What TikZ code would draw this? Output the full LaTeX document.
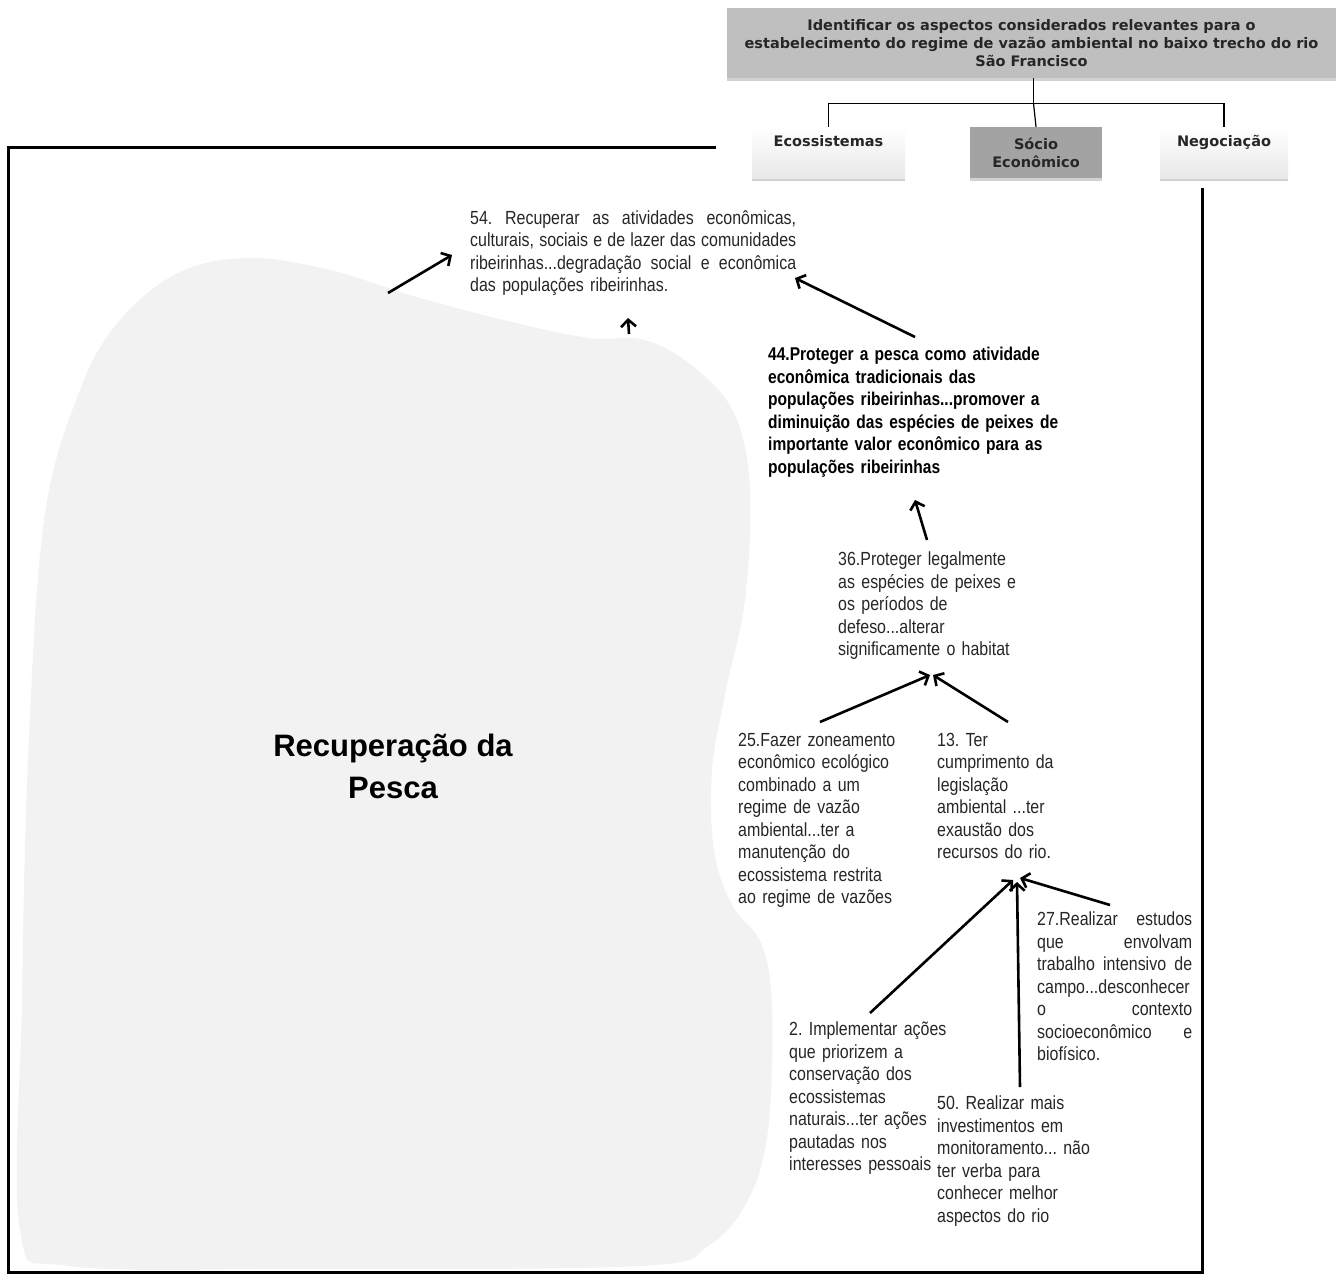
\documentclass[tikz,border=0pt]{standalone}
\usepackage{fontspec}
\setmainfont{Liberation Sans}
\newfontfamily\narrowfont[FakeStretch=0.84,WordSpace=0.55]{Liberation Sans}
\newfontfamily\chartfont{DejaVu Sans}
\newcommand{\jline}[1]{\leavevmode\hbox to\hsize{\spaceskip=0.2em plus 1fil\relax#1}}
\usetikzlibrary{arrows.meta,shadows}

\begin{document}
\frenchspacing
\begin{tikzpicture}[x=1pt,y=-1pt,>={Straight Barb[length=7pt,width=15pt]},
  chartbox/.style={draw=none,align=center,inner sep=0,minimum height=51,
    font=\chartfont\bfseries\fontsize{14.5}{18}\selectfont,text=black!85,
    drop shadow={shadow xshift=0pt,shadow yshift=-3pt,opacity=0.35}},
  txt/.style={anchor=north west,inner sep=0,align=left,text=black!85,
    font=\narrowfont\fontsize{19}{22.5}\selectfont},
  link/.style={->,line width=2.6}]
\useasboundingbox (0,0) rectangle (1336,1279);
\draw[line width=3] (8,148) rectangle (1202,1272);
\fill[gray!10] plot[smooth cycle,tension=0.6] coordinates {
  (20,1230) (22,1000) (28,760) (44,520) (80,390) (120,320) (180,272)
  (250,258) (330,270) (420,298) (520,324) (590,338) (645,340) (695,368)
  (735,415) (750,490) (745,600) (726,690) (712,770) (714,850) (732,905)
  (762,945) (772,1010) (768,1130) (748,1200) (708,1246) (640,1266)
  (300,1269) (70,1266)};
\fill[white] (716,0) rectangle (1336,188);

\node[chartbox,fill=gray!50,minimum width=609,minimum height=70] (goal) at (1031.5,43)
  {Identificar os aspectos considerados relevantes para o\\
   estabelecimento do regime de vazão ambiental no baixo trecho do rio\\
   São Francisco};
\node[chartbox,top color=white,bottom color=gray!18,minimum width=153] (eco) at (828.5,152.5)
  {Ecossistemas\\\strut};
\node[chartbox,fill=gray!72,minimum width=132] (socio) at (1036,152.5)
  {Sócio\\Econômico};
\node[chartbox,top color=white,bottom color=gray!18,minimum width=128] (nego) at (1224,152.5)
  {Negociação\\\strut};
\draw[line width=1.2] ([xshift=2]goal.south) -- ++(0,25) coordinate (bus);
\draw[line width=1.2] (eco.north) |- (bus) -| (nego.north);
\draw[line width=1.2] (bus) -- (socio.north);

\node[align=center,font=\bfseries\fontsize{31}{42}\selectfont] (pesca) at (393,766)
  {Recuperação da\\Pesca};

\node[txt,text width=326] (n54) at (470,210)
  {\jline{54. Recuperar as atividades econômicas,}\\\jline{culturais, sociais e de lazer das comunidades}\\
   \jline{ribeirinhas...degradação social e econômica}\\das populações ribeirinhas.};
\node[txt,text width=320,font=\narrowfont\bfseries\fontsize{18.5}{22.5}\selectfont,text=black] (n44) at (768,347)
  {44.Proteger a pesca como atividade\\econômica tradicionais das\\populações ribeirinhas...promover a\\
   diminuição das espécies de peixes de\\importante valor econômico para as\\populações ribeirinhas};
\node[txt,text width=200] (n36) at (838,552)
  {36.Proteger legalmente\\as espécies de peixes e\\os períodos de\\defeso...alterar\\significamente o habitat};
\node[txt,text width=180] (n25) at (738,733)
  {25.Fazer zoneamento\\econômico ecológico\\combinado a um\\regime de vazão\\ambiental...ter a\\
   manutenção do\\ecossistema restrita\\ao regime de vazões};
\node[txt,text width=140] (n13) at (937,733)
  {13. Ter\\cumprimento da\\legislação\\ambiental ...ter\\exaustão dos\\recursos do rio.};
\node[txt,text width=155] (n27) at (1037,912)
  {\jline{27.Realizar estudos}\\\jline{que envolvam}\\\jline{trabalho intensivo de}\\
   \jline{campo...desconhecer}\\\jline{o contexto}\\\jline{socioeconômico e}\\biofísico.};
\node[txt,text width=170] (n2) at (789,1022)
  {2. Implementar ações\\que priorizem a\\conservação dos\\ecossistemas\\naturais...ter ações\\
   pautadas nos\\interesses pessoais};
\node[txt,text width=170] (n50) at (937,1096)
  {50. Realizar mais\\investimentos em\\monitoramento... não\\ter verba para\\conhecer melhor\\aspectos do rio};

\coordinate (blobA) at (388,293);
\coordinate (blobB) at (629,334);
\draw[link] (blobA) -- ([shift={(-18,45)}]n54.north west);
\draw[link] (blobB) -- ([shift={(158,108)}]n54.north west);
\draw[link] ([shift={(147,-10)}]n44.north west) -- ([shift={(325,68)}]n54.north west);
\draw[link] ([shift={(89,-12)}]n36.north west) -- ([shift={(147,153)}]n44.north west);
\draw[link] ([shift={(82,-11)}]n25.north west) -- ([shift={(92,123)}]n36.north west);
\draw[link] ([shift={(71,-11)}]n13.north west) -- ([shift={(95,123)}]n36.north west);
\draw[link] ([shift={(81,-9)}]n2.north west) -- ([shift={(76,147)}]n13.north west);
\draw[link] ([shift={(83,-9)}]n50.north west) -- ([shift={(80,149)}]n13.north west);
\draw[link] ([shift={(73,-7)}]n27.north west) -- ([shift={(83,145)}]n13.north west);
\end{tikzpicture}
\end{document}
